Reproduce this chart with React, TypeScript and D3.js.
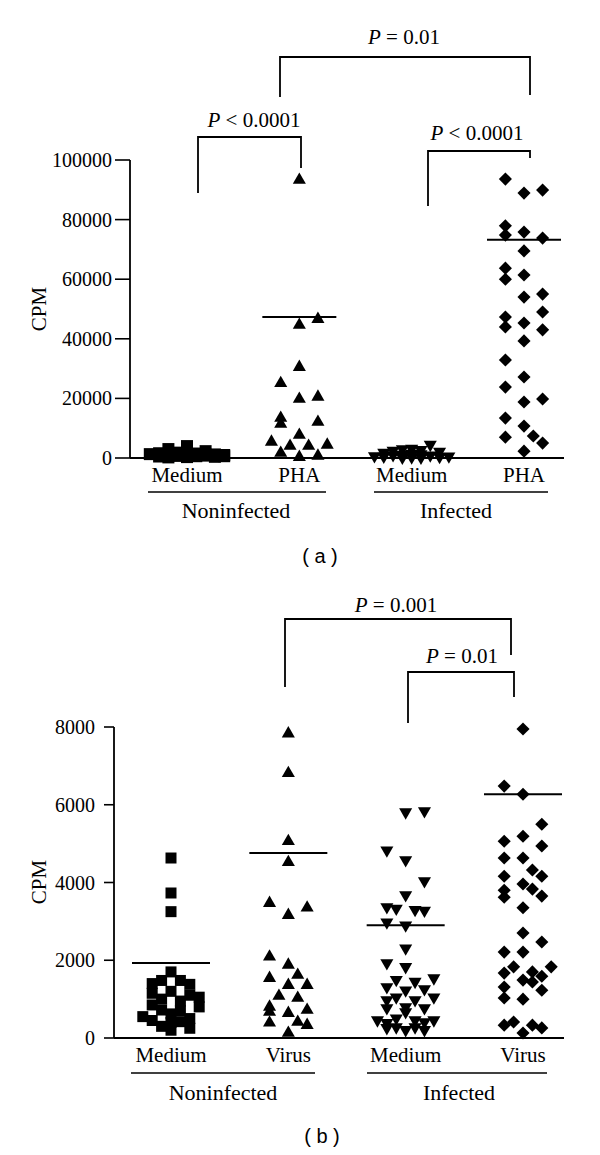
import React from "react";
import * as d3 from "d3";

// ---------- Panel (a) data ----------
const catLabelsA = ["Medium", "PHA", "Medium", "PHA"];
const groupLabelsA = ["Noninfected", "Infected"];
const ticksA = [0, 20000, 40000, 60000, 80000, 100000];
const meansA = [1000, 47300, 1300, 73200];
// [CPM value, jitter lane]
const niMediumA: [number, number][] = [
  [4000, 0], [3000, -2], [2300, 2], [1800, -1], [1500, 1], [1600, -3], [1200, 3], [1300, -4],
  [1000, 4], [900, 0], [800, -2], [1100, 2], [700, -1], [600, 1], [500, -3], [400, 3],
  [300, 0], [200, -2], [800, 2], [600, 4],
];
const niPhaA: [number, number][] = [
  [93300, 0], [46600, 2], [44600, 0], [30500, 0], [25100, -2], [20500, 2], [19800, 0],
  [13400, -2], [12100, 2], [11400, -2], [7700, 0], [5400, -3], [4400, 3], [4000, -1],
  [4000, 1], [1700, -2], [700, 2], [300, 0],
];
const iMediumA: [number, number][] = [
  [4500, 2], [3000, -1], [3200, 0], [2800, 1], [2500, -2], [2200, 3], [1800, -3], [1500, 0],
  [1200, -1], [1300, 1], [1000, -2], [900, 2], [700, -4], [600, 4], [500, -3], [400, 3],
  [300, 0], [200, -1], [150, 1],
];
const iPhaA: [number, number][] = [
  [93600, -2], [88900, 0], [89900, 2], [77900, -2], [74800, -2], [75800, 0], [73800, 2],
  [69500, 0], [63700, -2], [60000, -2], [61400, 0], [54000, 0], [55000, 2], [49000, 2],
  [47300, -2], [44000, -2], [45300, 0], [43000, 2], [39300, 0], [32900, -2], [27200, 0],
  [23800, -2], [18800, 0], [19800, 2], [13400, -2], [10700, 0], [7400, 1], [7000, -2],
  [5000, 2], [2300, 0],
];

// ---------- Panel (b) data ----------
const catLabelsB = ["Medium", "Virus", "Medium", "Virus"];
const groupLabelsB = ["Noninfected", "Infected"];
const ticksB = [0, 2000, 4000, 6000, 8000];
const meansB = [1930, 4760, 2900, 6270];
const niMediumB: [number, number][] = [
  [4630, 0], [3730, 0], [3250, 0], [1700, 0], [1480, -1], [1480, 1], [1400, -2], [1380, 2],
  [1200, 0], [1150, -2], [1100, 2], [1050, 3], [1000, -1], [950, 1], [850, -2], [800, 3],
  [720, -1], [700, 1], [620, 0], [550, -3], [500, 2], [450, -2], [420, 1], [400, 0],
  [300, -1], [250, 2], [200, 0],
];
const niVirusB: [number, number][] = [
  [7830, 0], [6810, 0], [5060, 0], [4520, 0], [3470, -2], [3350, 2], [3160, 0], [2090, -2],
  [1880, 0], [1620, 1], [1540, -2], [1360, 0], [1360, 2], [1080, -1], [1030, 1], [800, -2],
  [720, 2], [670, -2], [640, 0], [410, 1], [390, -2], [330, 2], [130, 0],
];
const iMediumB: [number, number][] = [
  [5810, 0], [5840, 2], [4830, -2], [4580, 0], [4040, 2], [3680, 0], [3370, -2], [3330, -1],
  [3300, 1], [3280, 2], [2980, -2], [2900, 0], [2310, 0], [1930, -2], [1830, 0], [1500, -1],
  [1450, 1], [1540, 3], [1310, -2], [1230, 0], [1260, 2], [980, -2], [1050, -1], [980, 1],
  [1050, 3], [770, -2], [800, 0], [770, 2], [460, -3], [390, -2], [510, -1], [670, 0],
  [460, 1], [410, 2], [460, 3], [260, -2], [280, -1], [210, 0], [280, 1], [210, 2],
];
const iVirusB: [number, number][] = [
  [7950, 0], [6480, -2], [6270, 0], [5500, 2], [5190, 0], [5060, -2], [4940, 2], [4630, -2],
  [4630, 0], [4320, 1], [4160, -2], [4160, 2], [3960, 0], [3830, 1], [3800, -2], [3620, -2],
  [3650, 2], [3350, 0], [2700, 0], [2470, 2], [2210, -2], [2210, 0], [1830, -1], [1830, 3],
  [1670, -2], [1700, 1], [1590, 2], [1490, 0], [1440, 1], [1310, -2], [1230, 2], [1030, -2],
  [1000, 0], [330, -2], [410, -1], [330, 1], [260, 2], [130, 0],
];

type Shape = "square" | "triangle" | "triangleDown" | "diamond";
const shapes: Shape[] = ["square", "triangle", "triangleDown", "diamond"];

const SERIF = "'Liberation Serif', 'Times New Roman', serif";

function symbolPath(shape: Shape, big: boolean) {
  if (shape === "square") return d3.symbol().type(d3.symbolSquare).size(big ? 144 : 121)()!;
  if (shape === "diamond") return d3.symbol().type(d3.symbolSquare).size(86)()!;
  return d3.symbol().type(d3.symbolTriangle).size(74)()!;
}
function symbolRot(shape: Shape) {
  if (shape === "diamond") return " rotate(45)";
  if (shape === "triangleDown") return " rotate(180)";
  return "";
}

interface Bracket {
  x1: number; x2: number; y: number; e1: number; e2: number; label: string; rest: string; tx: number; ty: number;
}

interface PanelCfg {
  y: d3.ScaleLinear<number, number>;
  x: d3.ScalePoint<number>;
  lane: number;
  axisX: number;
  axisRight: number;
  tickLen: number;
  tickGap: number;
  ticks: number[];
  series: [number, number][][];
  means: number[];
  meanHalf: number;
  cats: string[];
  groups: string[];
  catY: number;
  underlineY: number;
  underlines: [number, number][];
  groupX: number[];
  groupY: number;
  cpm: [number, number];
  tag: string;
  tagPos: [number, number];
  brackets: Bracket[];
  bigSquares: boolean;
}

function Panel({ c }: { c: PanelCfg }) {
  const [y0, y1] = c.y.range();
  return (
    <g>
      {/* y axis */}
      <line x1={c.axisX} x2={c.axisX} y1={y1} y2={y0} stroke="#000" strokeWidth={1.8} />
      {c.ticks.map((t) => (
        <g key={t}>
          <line x1={c.axisX - c.tickLen} x2={c.axisX} y1={c.y(t)} y2={c.y(t)} stroke="#000" strokeWidth={1.6} />
          <text x={c.axisX - c.tickLen - c.tickGap} y={c.y(t)} dy="0.35em" textAnchor="end" fontFamily={SERIF} fontSize={20}>
            {t}
          </text>
        </g>
      ))}
      <line x1={c.axisX} x2={c.axisRight} y1={y0} y2={y0} stroke="#000" strokeWidth={1.8} />
      <text transform={`translate(${c.cpm[0]},${c.cpm[1]}) rotate(-90)`} textAnchor="middle" dy="0.35em" fontFamily={SERIF} fontSize={21}>
        CPM
      </text>
      {/* points */}
      {c.series.map((s, i) => {
        const p = symbolPath(shapes[i], c.bigSquares);
        const r = symbolRot(shapes[i]);
        const cx = c.x(i)!;
        return (
          <g key={i}>
            {s.map(([v, l], j) => (
              <path key={j} d={p} transform={`translate(${cx + l * c.lane},${c.y(v)})${r}`} fill="#000" />
            ))}
            <line x1={cx - c.meanHalf} x2={cx + c.meanHalf} y1={c.y(c.means[i])} y2={c.y(c.means[i])} stroke="#000" strokeWidth={2} />
          </g>
        );
      })}
      {/* category labels */}
      {c.cats.map((t, i) => (
        <text key={i} x={c.x(i)!} y={c.catY} textAnchor="middle" fontFamily={SERIF} fontSize={21}>
          {t}
        </text>
      ))}
      {c.underlines.map(([a, b], i) => (
        <line key={i} x1={a} x2={b} y1={c.underlineY} y2={c.underlineY} stroke="#000" strokeWidth={1.6} />
      ))}
      {c.groups.map((g, i) => (
        <text key={i} x={c.groupX[i]} y={c.groupY} textAnchor="middle" fontFamily={SERIF} fontSize={22}>
          {g}
        </text>
      ))}
      <text x={c.tagPos[0]} y={c.tagPos[1]} textAnchor="middle" fontFamily="'Liberation Sans', Arial, sans-serif" fontSize={20} xmlSpace="preserve">
        {c.tag}
      </text>
      {/* brackets */}
      {c.brackets.map((b, i) => (
        <g key={i}>
          <path d={`M${b.x1},${b.e1}V${b.y}H${b.x2}V${b.e2}`} fill="none" stroke="#000" strokeWidth={1.8} />
          <text x={b.tx} y={b.ty} textAnchor="middle" fontFamily={SERIF} fontSize={21} xmlSpace="preserve">
            <tspan fontStyle="italic">{b.label}</tspan>
            <tspan>{b.rest}</tspan>
          </text>
        </g>
      ))}
    </g>
  );
}

export default function App() {
  const cfgA: PanelCfg = {
    y: d3.scaleLinear().domain([0, 100000]).range([458, 160]),
    x: d3.scalePoint<number>().domain([0, 1, 2, 3]).range([187, 524]),
    lane: 9.3,
    axisX: 130,
    axisRight: 564,
    tickLen: 15,
    tickGap: 3,
    ticks: ticksA,
    series: [niMediumA, niPhaA, iMediumA, iPhaA],
    means: meansA,
    meanHalf: 37,
    cats: catLabelsA,
    groups: groupLabelsA,
    catY: 482,
    underlineY: 492,
    underlines: [[148, 326], [374, 548]],
    groupX: [236, 456],
    groupY: 518,
    cpm: [39, 309],
    tag: "( a )",
    tagPos: [320, 563],
    bigSquares: true,
    brackets: [
      { x1: 280, x2: 530, y: 57, e1: 97, e2: 95, label: "P", rest: " = 0.01", tx: 404, ty: 44 },
      { x1: 198, x2: 301, y: 137, e1: 193, e2: 168, label: "P", rest: " < 0.0001", tx: 254, ty: 127 },
      { x1: 428, x2: 530, y: 151, e1: 206, e2: 158, label: "P", rest: " < 0.0001", tx: 477, ty: 140 },
    ],
  };
  const cfgB: PanelCfg = {
    y: d3.scaleLinear().domain([0, 8000]).range([1038, 727]),
    x: d3.scalePoint<number>().domain([0, 1, 2, 3]).range([171, 523]),
    lane: 9.4,
    axisX: 114,
    axisRight: 564,
    tickLen: 10,
    tickGap: 9,
    ticks: ticksB,
    series: [niMediumB, niVirusB, iMediumB, iVirusB],
    means: meansB,
    meanHalf: 39,
    cats: catLabelsB,
    groups: groupLabelsB,
    catY: 1062,
    underlineY: 1073,
    underlines: [[131, 315], [367, 547]],
    groupX: [223, 459],
    groupY: 1100,
    cpm: [39, 882],
    tag: "( b )",
    tagPos: [322, 1143],
    bigSquares: false,
    brackets: [
      { x1: 285, x2: 511, y: 619, e1: 687, e2: 655, label: "P", rest: " = 0.001", tx: 396, ty: 612 },
      { x1: 408, x2: 514, y: 672, e1: 723, e2: 697, label: "P", rest: " = 0.01", tx: 462, ty: 663 },
    ],
  };
  return (
    <svg
      width={600}
      height={1155}
      viewBox="0 0 600 1155"
      style={{ position: "absolute", left: 0, top: 0, display: "block", background: "#fff" }}
    >
      <rect x={0} y={0} width={600} height={1155} fill="#fff" />
      <Panel c={cfgA} />
      <Panel c={cfgB} />
    </svg>
  );
}
